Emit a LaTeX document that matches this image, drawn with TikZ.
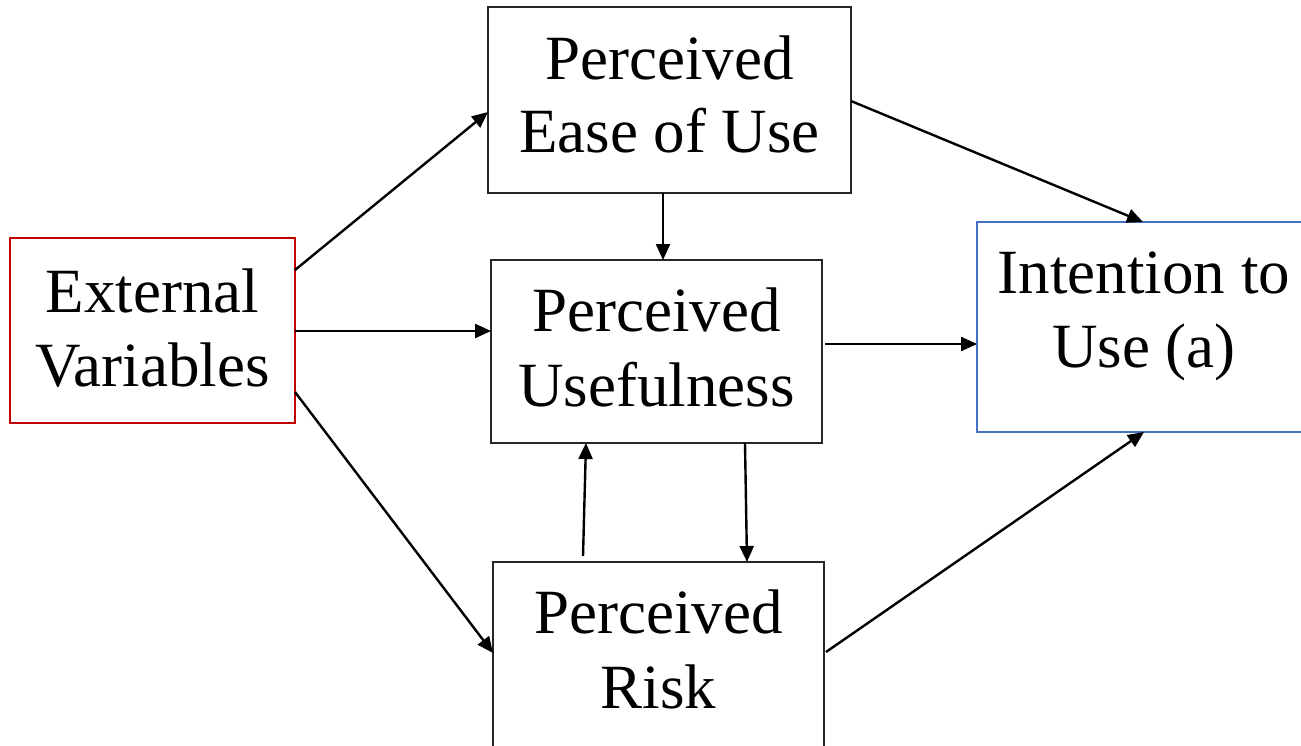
\documentclass[tikz,border=0pt]{standalone}
\usepackage{fontspec}
\setmainfont{DejaVu Serif}
\newfontfamily\tnrfont{Liberation Serif}
\usetikzlibrary{arrows.meta}
\definecolor{extred}{HTML}{C00000}
\definecolor{intblue}{HTML}{4472C4}
\begin{document}
\begin{tikzpicture}[x=1pt,y=-1pt,
  box/.style={draw=black!85,line width=1.3pt,rectangle,inner sep=0pt,outer sep=0pt},
  txt/.style={anchor=base,inner sep=0pt,font=\tnrfont\fontsize{63}{74}\selectfont},
  link/.style={line width=2.4pt,-{Triangle[length=16pt,width=14pt]}}]
\useasboundingbox (0,0) rectangle (1301,746);
\fill[white] (0,0) rectangle (1301,746);

% boxes
\node[box,draw=extred,line width=2.2pt,minimum width=285pt,minimum height=185pt] (ext) at (152.5,330.5) {};
\node[box,minimum width=363pt,minimum height=186pt] (peou) at (669.5,100) {};
\node[box,minimum width=331pt,minimum height=183pt] (pu) at (656.5,351.5) {};
\node[box,minimum width=331pt,minimum height=185pt] (pr) at (658.5,654.5) {};
\node[box,draw=intblue,line width=2.2pt,minimum width=334pt,minimum height=210pt] (int) at (1144,327) {};

% labels
\node[txt] (ext1) at (152.5,312) {External};
\node[txt] (ext2) at (152.5,386) {Variables};
\node[txt] (peou1) at (669.5,80) {Perceived};
\node[txt] (peou2) at (669.5,153) {Ease of Use};
\node[txt] (pu1) at (656.5,331) {Perceived};
\node[txt] (pu2) at (656.5,406) {Usefulness};
\node[txt] (pr1) at (658.5,633) {Perceived};
\node[txt] (pr2) at (658.5,708) {Risk};
\node[txt] (int1) at (1144,293) {Intention to};
\node[txt] (int2) at (1144,367) {Use (a)};

% connectors
\draw[link] ([yshift=60.5pt]ext.east) -- ([yshift=-12pt]peou.west);
\draw[link] ([yshift=-0.5pt]ext.east) -- ([yshift=20.5pt]pu.west);
\draw[link] ([yshift=-61.5pt]ext.east) -- ([yshift=1.5pt]pr.west);
\draw[link] ([xshift=-6.5pt]peou.south) -- ([xshift=6.5pt]pu.north);
\draw[link] ([xshift=-75.5pt,yshift=6pt]pr.north) -- ([xshift=-70.5pt]pu.south);
\draw[link] ([xshift=88.5pt]pu.south) -- ([xshift=88.5pt]pr.north);
\draw[link] ([yshift=-1pt]peou.east) -- ([xshift=-1pt]int.north);
\draw[link] ([xshift=3pt,yshift=7.5pt]pu.east) -- ([yshift=-17pt]int.west);
\draw[link] ([xshift=2pt,yshift=2.5pt]pr.east) -- (int.south);
\end{tikzpicture}
\end{document}
